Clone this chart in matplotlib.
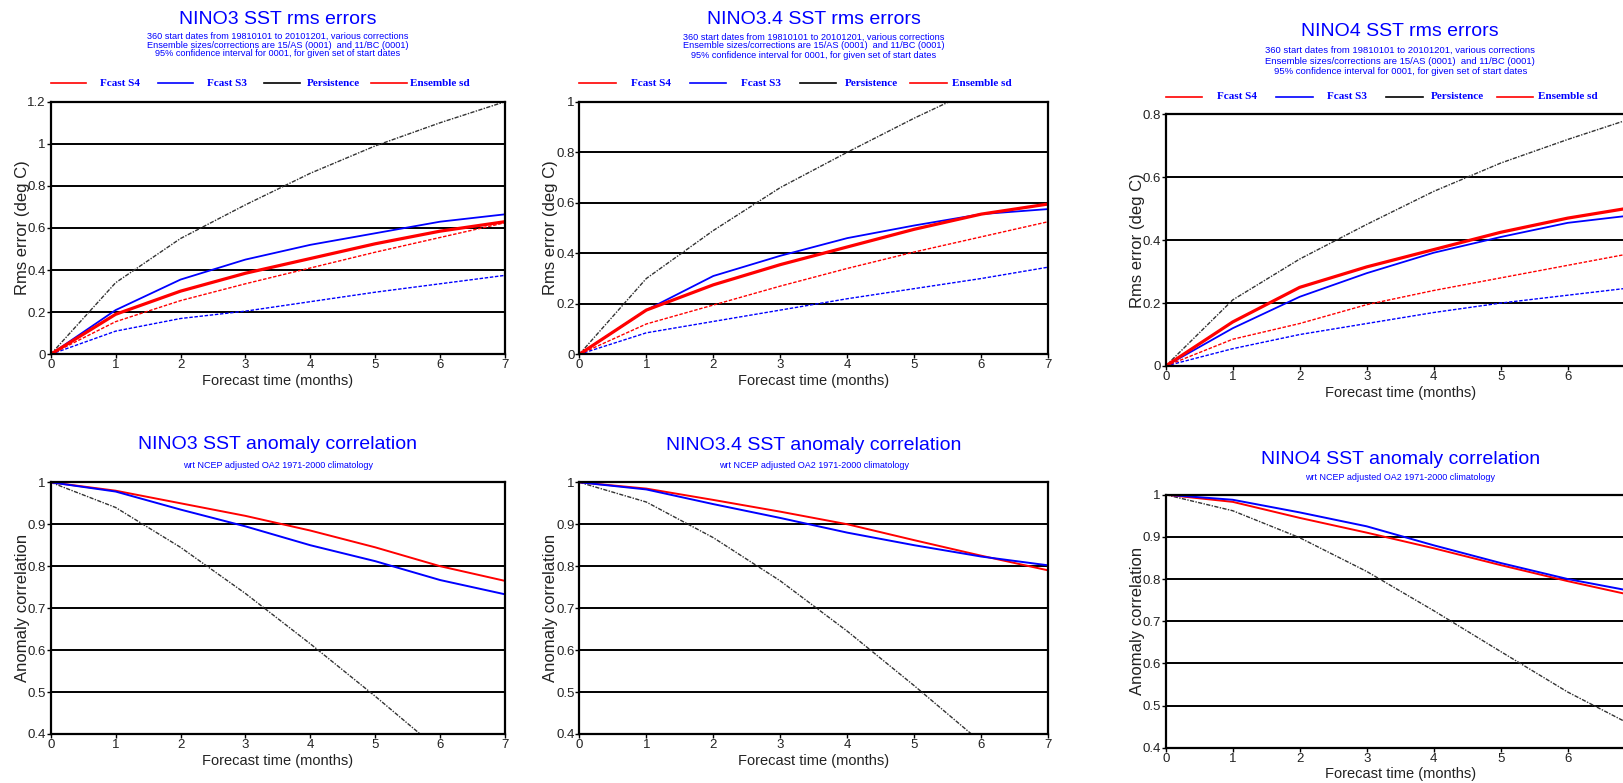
import matplotlib
matplotlib.use('Agg')
import matplotlib.pyplot as plt
from matplotlib.lines import Line2D

W, H = 1623, 783

months = [0, 1, 2, 3, 4, 5, 6, 7]
legend_labels = ['Fcast S4', 'Fcast S3', 'Persistence', 'Ensemble sd']
legend_colors = ['red', 'blue', 'black', 'red']

# rms errors (deg C)
nino3_rms_s4 = [0, 0.19, 0.30, 0.385, 0.455, 0.525, 0.585, 0.63]
nino3_rms_s3 = [0, 0.21, 0.355, 0.45, 0.52, 0.575, 0.63, 0.665]
nino3_rms_pers = [0, 0.34, 0.55, 0.71, 0.86, 0.99, 1.10, 1.20]
nino3_sd_s4 = [0, 0.155, 0.255, 0.335, 0.41, 0.485, 0.555, 0.625]
nino3_sd_s3 = [0, 0.11, 0.17, 0.205, 0.25, 0.295, 0.335, 0.375]

nino34_rms_s4 = [0, 0.175, 0.275, 0.355, 0.425, 0.495, 0.555, 0.595]
nino34_rms_s3 = [0, 0.175, 0.31, 0.39, 0.46, 0.51, 0.555, 0.575]
nino34_rms_pers = [0, 0.30, 0.49, 0.66, 0.80, 0.935, 1.06, 1.17]
nino34_sd_s4 = [0, 0.12, 0.195, 0.27, 0.34, 0.405, 0.465, 0.525]
nino34_sd_s3 = [0, 0.085, 0.13, 0.175, 0.22, 0.26, 0.30, 0.345]

nino4_rms_s4 = [0, 0.14, 0.25, 0.315, 0.37, 0.425, 0.47, 0.505]
nino4_rms_s3 = [0, 0.12, 0.22, 0.295, 0.36, 0.41, 0.455, 0.48]
nino4_rms_pers = [0, 0.21, 0.34, 0.45, 0.555, 0.645, 0.72, 0.79]
nino4_sd_s4 = [0, 0.085, 0.135, 0.195, 0.24, 0.28, 0.32, 0.36]
nino4_sd_s3 = [0, 0.055, 0.10, 0.135, 0.17, 0.20, 0.225, 0.25]

# anomaly correlation
nino3_ac_s4 = [1, 0.98, 0.95, 0.92, 0.885, 0.845, 0.80, 0.765]
nino3_ac_s3 = [1, 0.978, 0.935, 0.895, 0.85, 0.812, 0.767, 0.733]
nino3_ac_pers = [1, 0.94, 0.845, 0.735, 0.615, 0.49, 0.36, 0.22]

nino34_ac_s4 = [1, 0.985, 0.958, 0.93, 0.90, 0.862, 0.825, 0.79]
nino34_ac_s3 = [1, 0.983, 0.948, 0.915, 0.88, 0.85, 0.823, 0.802]
nino34_ac_pers = [1, 0.953, 0.868, 0.765, 0.645, 0.515, 0.38, 0.24]

nino4_ac_s4 = [1, 0.983, 0.945, 0.91, 0.873, 0.833, 0.795, 0.76]
nino4_ac_s3 = [1, 0.988, 0.958, 0.925, 0.88, 0.838, 0.80, 0.77]
nino4_ac_pers = [1, 0.962, 0.898, 0.818, 0.725, 0.628, 0.532, 0.45]

rms_sub = ['360 start dates from 19810101 to 20101201, various corrections',
           'Ensemble sizes/corrections are 15/AS (0001)  and 11/BC (0001)',
           '95% confidence interval for 0001, for given set of start dates']
ac_sub = 'wrt NCEP adjusted OA2 1971-2000 climatology'

SANS = 'Liberation Sans'
SERIF = 'Liberation Serif'
TXT = '#222222'
PERS_LS = (0, (3, 1, 1, 1))
SD_LS = (0, (2.5, 1.2))


def px_axes(fig, l, t, r, b):
    return fig.add_axes([l / W, 1 - b / H, (r - l) / W, (b - t) / H])


def style(ax, ymin, ymax, ystep, ylabel, xt):
    ax.set_xlim(0, 7)
    ax.set_ylim(ymin, ymax)
    ax.set_xticks(xt)
    n = int(round((ymax - ymin) / ystep))
    yt = [round(ymin + i * ystep, 2) for i in range(n + 1)]
    ax.set_yticks(yt)
    ax.set_yticklabels(['%g' % v for v in yt])
    ax.yaxis.grid(True, color='black', lw=1.4)
    ax.set_axisbelow(True)
    for s in ax.spines.values():
        s.set_linewidth(1.6)
        s.set_color('black')
    ax.tick_params(direction='out', length=3, width=1, pad=0.5,
                   labelsize=9.5, labelcolor=TXT)
    for lab in ax.get_xticklabels() + ax.get_yticklabels():
        lab.set_fontfamily(SANS)
    ax.set_xlabel('Forecast time (months)', fontsize=10.5, family=SANS,
                  color=TXT, labelpad=2)
    ax.set_ylabel(ylabel, fontsize=12, family=SANS, color=TXT)
    ax.yaxis.set_label_coords(-0.045, 0.5)


def legend(ax, ytop):
    slot = 0.2352
    for i, (lab, c) in enumerate(zip(legend_labels, legend_colors)):
        x0 = i * slot
        ax.add_line(Line2D([x0, x0 + 0.078], [ytop, ytop], color=c, lw=1.2,
                           transform=ax.transAxes, clip_on=False))
        ax.text(x0 + 0.152, ytop, lab, transform=ax.transAxes, ha='center',
                va='center', color='blue', fontsize=8, family=SERIF,
                fontweight='bold')


def plot_rms(ax, s4, s3, pers, sd4, sd3):
    ax.plot(months, pers, color='#333333', lw=1, ls=PERS_LS)
    ax.plot(months, sd3, color='blue', lw=1, ls=SD_LS)
    ax.plot(months, sd4, color='red', lw=1, ls=SD_LS)
    ax.plot(months, s3, color='blue', lw=1.3)
    ax.plot(months, s4, color='red', lw=2.3)


def plot_ac(ax, s4, s3, pers):
    ax.plot(months, pers, color='#333333', lw=1, ls=PERS_LS)
    ax.plot(months, s4, color='red', lw=1.4)
    ax.plot(months, s3, color='blue', lw=1.4)


def titles(fig, xc, yt, title, subs, ys, subsize):
    fig.text(xc / W, 1 - yt / H, title, ha='center', va='center',
             fontsize=14, family=SANS, color='blue')
    for s, y in zip(subs, ys):
        fig.text(xc / W, 1 - y / H, s, ha='center', va='center',
                 fontsize=subsize, family=SANS, color='blue')


fig = plt.figure(figsize=(W / 100, H / 100), dpi=100)

full_ticks = months
cut_ticks = months[:-1]  # the right column runs past the page edge

panels_top = [
    ((50.7, 101.7, 505, 354.3), 'NINO3', (nino3_rms_s4, nino3_rms_s3, nino3_rms_pers, nino3_sd_s4, nino3_sd_s3),
     1.2, 20, (36, 45, 54), 6.6, 83, full_ticks),
    ((579.3, 101.7, 1048.3, 354.3), 'NINO3.4', (nino34_rms_s4, nino34_rms_s3, nino34_rms_pers, nino34_sd_s4, nino34_sd_s3),
     1.0, 20, (37, 46, 55), 6.6, 83, full_ticks),
    ((1165.7, 114.3, 1634.7, 366), 'NINO4', (nino4_rms_s4, nino4_rms_s3, nino4_rms_pers, nino4_sd_s4, nino4_sd_s3),
     0.8, 32, (50, 61, 72), 6.8, 96.5, cut_ticks),
]
for box, name, series, ymax, yt, ys, ss, yleg, xt in panels_top:
    ax = px_axes(fig, *box)
    plot_rms(ax, *series)
    style(ax, 0, ymax, 0.2, 'Rms error (deg C)', xt)
    hgt = box[3] - box[1]
    legend(ax, 1 + (box[1] - yleg) / hgt)
    titles(fig, (box[0] + box[2]) / 2, yt, name + ' SST rms errors', rms_sub, ys, ss)

panels_bot = [
    ((50.7, 482.3, 505, 734), 'NINO3', (nino3_ac_s4, nino3_ac_s3, nino3_ac_pers), 445, 465, full_ticks),
    ((579.3, 482.3, 1048.3, 734), 'NINO3.4', (nino34_ac_s4, nino34_ac_s3, nino34_ac_pers), 446, 465.7, full_ticks),
    ((1165.7, 494.7, 1634.7, 747.7), 'NINO4', (nino4_ac_s4, nino4_ac_s3, nino4_ac_pers), 459.3, 477.3, cut_ticks),
]
for box, name, series, yt, ys, xt in panels_bot:
    ax = px_axes(fig, *box)
    plot_ac(ax, *series)
    style(ax, 0.4, 1.0, 0.1, 'Anomaly correlation', xt)
    titles(fig, (box[0] + box[2]) / 2, yt, name + ' SST anomaly correlation', [ac_sub], [ys], 6.5)

fig.savefig('out.png', dpi=100)
